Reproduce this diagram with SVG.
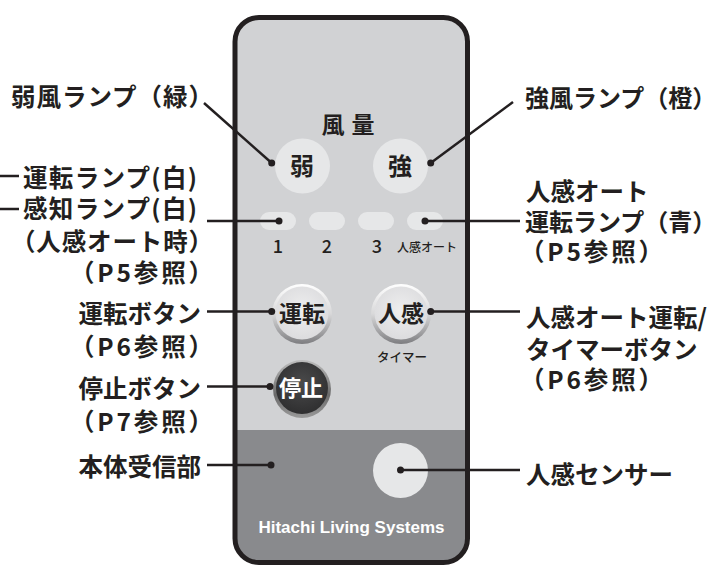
<svg xmlns="http://www.w3.org/2000/svg" width="719" height="567" viewBox="0 0 719 567">
<style>
.lbl{font-family:"Noto Sans CJK JP","Noto Sans",sans-serif;font-size:24.5px;font-weight:700;fill:#231f20}
.l{text-anchor:end}
.btn{font-family:"Noto Sans CJK JP","Noto Sans",sans-serif;font-size:23px;font-weight:700;fill:#231f20;text-anchor:middle}
.sm{font-family:"Noto Sans CJK JP","Noto Sans",sans-serif;font-weight:500;fill:#231f20;text-anchor:middle}
.ln{stroke:#231f20;stroke-width:2.5;fill:none}
.dot{fill:#231f20}
.pill{fill:#e6e7e8}
</style>
<defs>
<linearGradient id="rim" x1="0" y1="0" x2="0" y2="1">
<stop offset="0" stop-color="#ffffff"/>
<stop offset="0.5" stop-color="#d8d8d9"/>
<stop offset="1" stop-color="#7d7d80"/>
</linearGradient>
<radialGradient id="face" cx="0.5" cy="0.45" r="0.55">
<stop offset="0" stop-color="#eeeeef"/>
<stop offset="1" stop-color="#dcdcde"/>
</radialGradient>
<linearGradient id="rimd" x1="0" y1="0" x2="0" y2="1">
<stop offset="0" stop-color="#bdbdbd"/>
<stop offset="0.6" stop-color="#6a6a6a"/>
<stop offset="1" stop-color="#9a9a9a"/>
</linearGradient>
<radialGradient id="faced" cx="0.5" cy="0.4" r="0.6">
<stop offset="0" stop-color="#4a4a4b"/>
<stop offset="1" stop-color="#2f2f30"/>
</radialGradient>
<clipPath id="body"><rect x="235" y="17.5" width="232.5" height="545" rx="24"/></clipPath>
</defs>

<g id="remote">
<g clip-path="url(#body)">
<rect x="230" y="10" width="245" height="420" fill="#d1d2d4"/>
<rect x="230" y="430" width="245" height="140" fill="#898a8d"/>
</g>
<rect x="235" y="17.5" width="232.5" height="545" rx="24" fill="none" stroke="#231f20" stroke-width="5"/>
<text x="351.5" y="133" class="btn" style="letter-spacing:7px;font-size:23px">風量</text>
<text x="351.5" y="533" style="font-family:'Liberation Sans',Arial,sans-serif;font-size:17px;font-weight:700;fill:#ffffff;text-anchor:middle">Hitachi Living Systems</text>
</g>

<g id="btn-weak">
<circle cx="302.5" cy="166" r="27.5" fill="#e6e7e8"/>
<text x="302" y="175" class="btn" style="font-size:24px">弱</text>
</g>
<g id="btn-strong">
<circle cx="400.5" cy="166" r="27.5" fill="#e6e7e8"/>
<text x="400" y="175" class="btn" style="font-size:24px">強</text>
</g>

<g id="lamps">
<rect x="260" y="212" width="36" height="18" rx="9" class="pill"/>
<rect x="309" y="212" width="36" height="18" rx="9" class="pill"/>
<rect x="358" y="212" width="36" height="18" rx="9" class="pill"/>
<rect x="407" y="212" width="36" height="18" rx="9" class="pill"/>
<text x="278" y="253" class="sm" style="font-size:18px">1</text>
<text x="327" y="253" class="sm" style="font-size:18px">2</text>
<text x="377" y="253" class="sm" style="font-size:18px">3</text>
<text x="427" y="252" class="sm" style="font-size:12px">人感オート</text>
</g>

<g id="btn-run">
<circle cx="302" cy="314" r="30" fill="url(#rim)"/>
<circle cx="302" cy="313" r="26.5" fill="url(#face)"/>
<text x="302" y="321.5" class="btn">運転</text>
</g>
<g id="btn-sensor">
<circle cx="401" cy="314" r="30" fill="url(#rim)"/>
<circle cx="401" cy="313" r="26.5" fill="url(#face)"/>
<text x="401" y="321.5" class="btn">人感</text>
<text x="402" y="362" class="sm" style="font-size:12.5px">タイマー</text>
</g>
<g id="btn-stop">
<circle cx="302" cy="389" r="29" fill="url(#rimd)"/>
<circle cx="302" cy="388" r="26" fill="url(#faced)"/>
<text x="301" y="395.5" class="btn" style="fill:#ffffff;font-size:22px">停止</text>
</g>
<g id="sensor">
<circle cx="400.5" cy="470.5" r="27.5" fill="#e6e7e8"/>
</g>

<g id="labels-left">
<text x="213" y="106" class="lbl l" textLength="202" lengthAdjust="spacing">弱風ランプ（緑）</text>
<text x="197" y="186.5" class="lbl l" textLength="174" lengthAdjust="spacing">運転ランプ(白)</text>
<text x="197" y="218" class="lbl l" textLength="174" lengthAdjust="spacing">感知ランプ(白)</text>
<text x="213" y="250.5" class="lbl l" textLength="202" lengthAdjust="spacing">（人感オート時）</text>
<text x="213" y="281.5" class="lbl l" textLength="143" lengthAdjust="spacing">（P5参照）</text>
<text x="201" y="322.5" class="lbl l">運転ボタン</text>
<text x="213" y="355.5" class="lbl l" textLength="143" lengthAdjust="spacing">（P6参照）</text>
<text x="201" y="397.5" class="lbl l">停止ボタン</text>
<text x="213" y="430.5" class="lbl l" textLength="143" lengthAdjust="spacing">（P7参照）</text>
<text x="201" y="475.5" class="lbl l">本体受信部</text>
</g>
<g id="labels-right">
<text x="525" y="106.5" class="lbl" style="font-size:24px">強風ランプ（橙）</text>
<text x="526" y="201" class="lbl">人感オート</text>
<text x="525" y="230.5" class="lbl" style="font-size:24px">運転ランプ（青）</text>
<text x="520" y="260.5" class="lbl" textLength="143" lengthAdjust="spacing">（P5参照）</text>
<text x="526" y="327" class="lbl">人感オート運転/</text>
<text x="526" y="358.5" class="lbl">タイマーボタン</text>
<text x="520" y="389" class="lbl" textLength="143" lengthAdjust="spacing">（P6参照）</text>
<text x="526" y="483.5" class="lbl">人感センサー</text>
</g>

<g id="connectors">
<path class="ln" d="M0 176H19M0 209H19"/>
<path class="ln" d="M204 103L271.7 163"/>
<path class="ln" d="M513 102L430.7 163"/>
<path class="ln" d="M207 221H279"/>
<path class="ln" d="M425 221H520"/>
<path class="ln" d="M207 311.5H271.7"/>
<path class="ln" d="M430.7 311.5H520"/>
<path class="ln" d="M207 386.5H270"/>
<path class="ln" d="M207 465H271"/>
<path class="ln" d="M400.5 470H520"/>
<circle class="dot" cx="271.7" cy="163" r="3.5"/>
<circle class="dot" cx="430.7" cy="163" r="3.5"/>
<circle class="dot" cx="279" cy="221" r="3.5"/>
<circle class="dot" cx="425" cy="221" r="3.5"/>
<circle class="dot" cx="271.7" cy="311.5" r="3.5"/>
<circle class="dot" cx="430.7" cy="311.5" r="3.5"/>
<circle class="dot" cx="270" cy="386.5" r="3.5"/>
<circle class="dot" cx="271" cy="465" r="3.5"/>
<circle class="dot" cx="400.5" cy="470" r="3.5"/>
</g>
</svg>
